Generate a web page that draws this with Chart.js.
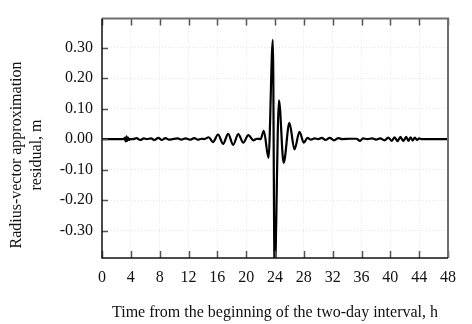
<!DOCTYPE html>
<html>
<head>
<meta charset="utf-8">
<script src="https://cdn.jsdelivr.net/npm/chart.js@4/dist/chart.umd.min.js"></script>
<style>
  html, body { margin: 0; padding: 0; background: #fff; }
  #wrap { width: 472px; height: 324px; }
</style>
</head>
<body>
<div id="wrap"><canvas id="chart" width="472" height="324"></canvas></div>
<script>
// время, ч
const hours = [
  0, 3.0, 3.15, 3.3, 3.4, 3.5, 3.6, 3.75, 3.9,
  4.3, 4.8, 5.3, 5.8, 6.2, 6.8, 7.3, 7.8, 8.3, 8.8, 9.3, 9.8,
  10.5, 11.0, 11.6, 12.2, 12.8, 13.3, 13.8, 14.2,
  14.8, 15.4, 16.1, 16.8, 17.5, 18.2, 18.9, 19.6, 20.3, 21.0, 21.5, 22.0,
  22.45, 23.1, 23.7, 23.95, 24.55, 25.2, 26.0, 26.7, 27.4, 28.0, 28.5, 29.0, 29.5, 30.0,
  30.5, 31.0, 31.6, 32.2, 32.8, 33.3, 34.5, 35.3, 35.8, 36.2, 36.8,
  37.5, 38.0, 38.6, 39.2, 39.7, 40.2, 40.6, 41.0, 41.4, 41.8, 42.2, 42.5, 42.8, 43.1, 43.4, 43.7, 44.0, 44.3, 48
];
// невязка, м
const residual = [
  0, 0, 0.004, -0.008, 0.009, -0.006, 0.005, -0.003, 0,
  0, 0.003, -0.003, 0.002, 0, 0.002, -0.003, 0.004, -0.003, 0.003, -0.002, 0,
  0.002, -0.002, 0.002, -0.002, 0.003, -0.002, 0.001, 0,
  0.006, -0.010, 0.015, -0.016, 0.017, -0.019, 0.016, -0.012, 0.013, -0.004, 0.001, 0,
  0.027, -0.062, 0.325, -0.45, 0.127, -0.078, 0.053, -0.034, 0.024, -0.012, 0.004, -0.002, 0.002, 0,
  0.004, -0.003, 0.004, -0.004, 0.003, 0, 0.001, 0.001, -0.006, 0.002, 0,
  0.002, -0.002, 0.002, -0.004, 0.005, -0.006, 0.006, -0.007, 0.007, -0.006, 0.007, -0.006, 0.006, -0.005, 0.005, -0.003, 0.002, 0, 0
];
const xTicks = [0, 4, 8, 12, 16, 20, 24, 28, 32, 36, 40, 44, 48];
const yTicks = [-0.3, -0.2, -0.1, 0, 0.1, 0.2, 0.3];

const serif = 'Liberation Serif, Times New Roman, serif';

// рамка, внутренние засечки и подпись оси Y
const framePlugin = {
  id: 'frame',
  afterDraw(chart) {
    const { ctx, chartArea: a } = chart;
    const xs = chart.scales.x, ys = chart.scales.y;
    ctx.save();
    ctx.lineWidth = 1.5;
    ctx.strokeStyle = '#555';
    ctx.beginPath();
    xs.ticks.forEach(t => {
      const px = Math.round(xs.getPixelForValue(t.value)) + 0.5;
      ctx.moveTo(px, a.top); ctx.lineTo(px, a.top + 7);
      ctx.moveTo(px, a.bottom); ctx.lineTo(px, a.bottom - 7);
    });
    ys.ticks.forEach(t => {
      const py = Math.round(ys.getPixelForValue(t.value)) + 0.5;
      ctx.moveTo(a.left, py); ctx.lineTo(a.left + 6, py);
    });
    ctx.stroke();
    // верх и правая граница — серые
    ctx.lineWidth = 2;
    ctx.strokeStyle = '#6e6e6e';
    ctx.beginPath();
    ctx.moveTo(a.left, a.top); ctx.lineTo(a.right, a.top); ctx.lineTo(a.right, a.bottom);
    ctx.stroke();
    // левая и нижняя — черные
    ctx.lineWidth = 1.5;
    ctx.strokeStyle = '#111';
    ctx.beginPath();
    ctx.moveTo(a.left, a.top); ctx.lineTo(a.left, a.bottom); ctx.lineTo(a.right, a.bottom);
    ctx.stroke();
    // подпись оси Y
    ctx.fillStyle = '#111';
    ctx.font = '16px ' + serif;
    ctx.textAlign = 'center';
    ctx.textBaseline = 'middle';
    ctx.translate(0, 155);
    ctx.rotate(-Math.PI / 2);
    ctx.fillText('Radius-vector approximation', 0, 17);
    ctx.fillText('residual, m', 0, 37);
    ctx.restore();
  }
};

window.residualChart = new Chart(document.getElementById('chart'), {
  type: 'line',
  data: {
    datasets: [{
      data: hours.map((h, i) => ({ x: h, y: residual[i] })),
      borderColor: '#000',
      borderWidth: 2.2,
      pointRadius: 0,
      cubicInterpolationMode: 'monotone',
      fill: false
    }]
  },
  options: {
    responsive: false,
    animation: false,
    events: [],
    layout: { padding: { top: 17, right: 24, left: 0, bottom: 0 } },
    plugins: { legend: { display: false }, tooltip: { enabled: false } },
    scales: {
      x: {
        type: 'linear',
        min: 0,
        max: 48,
        afterBuildTicks: axis => { axis.ticks = xTicks.map(v => ({ value: v })); },
        afterFit: axis => { axis.height = 66; },
        ticks: {
          padding: 10,
          color: '#111',
          font: { family: serif, size: 16 },
          maxRotation: 0,
          autoSkip: false
        },
        grid: { color: '#e6e6e6', lineWidth: 1, drawTicks: false },
        border: { display: false, dash: [1, 2] },
        title: {
          display: true,
          text: 'Time from the beginning of the two-day interval, h',
          color: '#111',
          font: { family: serif, size: 16 },
          padding: { top: 0, bottom: 2 }
        }
      },
      y: {
        min: -0.39,
        max: 0.395,
        afterBuildTicks: axis => { axis.ticks = yTicks.map(v => ({ value: v })); },
        afterFit: axis => { axis.width = 102; },
        ticks: {
          padding: 9,
          color: '#111',
          font: { family: serif, size: 16 },
          callback: v => v.toFixed(2)
        },
        grid: { color: '#e6e6e6', lineWidth: 1, drawTicks: false },
        border: { display: false, dash: [1, 2] }
      }
    }
  },
  plugins: [framePlugin]
});
</script>
</body>
</html>
